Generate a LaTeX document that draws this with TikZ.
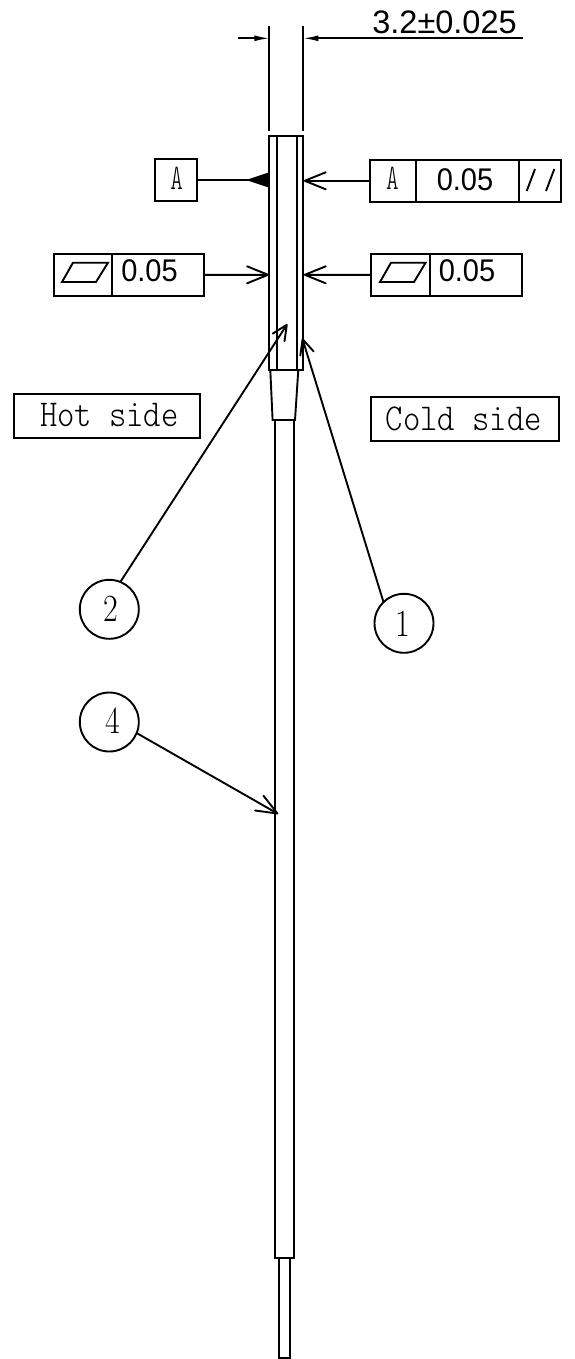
\documentclass[tikz,border=0pt]{standalone}
\usepackage{fontspec}
\usetikzlibrary{arrows.meta,calc}
\setmainfont{Liberation Sans}
\newcommand{\dimfont}[1]{\fontsize{#1}{#1}\selectfont}
\newcommand{\sanstall}[1]{\scalebox{1}[1.08]{\fontsize{29}{29}\selectfont #1}}
\newcommand{\serifdigit}[1]{\scalebox{1}[1.2]{\fontsize{32}{32}\selectfont\fontspec{Latin Modern Roman}#1}}
\newcommand{\monotext}[1]{\scalebox{1}[1.15]{\fontsize{33}{33}\selectfont\fontspec{Latin Modern Mono Light}#1}}
\newcommand{\monoA}{\scalebox{0.8}[1.2]{\fontsize{30}{30}\selectfont\fontspec{Latin Modern Mono Light}A}}
\tikzset{
  ln/.style={line width=1.9pt, line cap=butt, line join=miter},
  cell/.style={draw, ln, rectangle, inner sep=0pt, outer sep=0pt, anchor=north west},
  txt/.style={inner sep=0pt, outer sep=0pt, anchor=base},
  bubble/.style={draw, ln, circle, minimum size=59pt, inner sep=0pt, outer sep=0pt},
  pbarb/.style={-{Straight Barb[length=21pt,width=17pt,line width=1.9pt,round]}, ln},
  sbarb/.style={-{Straight Barb[length=15pt,width=14pt,line width=1.9pt,round]}, ln},
  dimtip/.style={-{Latex[length=15pt,width=6pt]}, line width=1.6pt}
}
\begin{document}
\begin{tikzpicture}[x=1pt,y=-1pt]
\useasboundingbox (0,0) rectangle (574,1359);
\fill[white] (0,0) rectangle (574,1359);

% part outline
\draw[ln] (269.3,136) rectangle (303.4,370);
\draw[ln] (276.7,136) -- (276.7,370);
\draw[ln] (297,136) -- (297,370);
\draw[ln] (270.3,370) -- (272.6,420) -- (295,420) -- (298.3,370);
\draw[ln] (275,420) -- (275,1258.3);
\draw[ln] (293.8,420) -- (293.8,1258.3);
\draw[ln] (274,1258.3) -- (294.8,1258.3);
\draw[ln] (279.3,1258.3) -- (279.3,1358.3) -- (290,1358.3) -- (290,1258.3);

% dimension
\coordinate (extLtop) at (269.3,25.7);
\coordinate (extLbot) at (269.3,130.7);
\coordinate (extRtop) at (303.4,25.7);
\coordinate (extRbot) at (303.4,130.7);
\coordinate (dimL) at (238,38.3);
\coordinate (dimLtip) at (269.3,38.3);
\coordinate (dimRend) at (522.7,38.3);
\coordinate (dimRtip) at (303.4,38.3);
\draw[ln] (extLtop) -- (extLbot);
\draw[ln] (extRtop) -- (extRbot);
\draw[dimtip] (dimL) -- (dimLtip);
\draw[dimtip] (dimRend) -- (dimRtip);
\node[txt] (dimtext) at (444.5,34) {\dimfont{32.5}3.2±0.025};

% datum A
\node[cell, minimum width=42pt, minimum height=41.4pt] (datum) at (155.3,159.3) {};
\node[txt] (datumA) at (176.7,189.3) {\monoA};
\coordinate (datumfoot) at (269.3,180);
\coordinate (datumbase) at (246,180);
\draw[ln] (datum.east) -- (datumfoot);
\fill (datumbase) -- (269.3,172.3) -- (269.3,187.7) -- cycle;

% parallelism frame
\node[cell, minimum width=46pt, minimum height=41.6pt] (fA) at (370,160) {};
\node[cell, minimum width=103.3pt, minimum height=41.6pt] (fB) at (416,160) {};
\node[cell, minimum width=41.4pt, minimum height=41.6pt] (fC) at (519.3,160) {};
\node[txt] (fAt) at (392.3,189.3) {\monoA};
\node[txt] (fBt) at (465,190) {\sanstall{0.05}};
\draw[ln] (526.7,191) -- (535,169);
\draw[ln] (546,191) -- (554.3,169);
\coordinate (fTip) at (303.8,180.8);
\draw[pbarb] (fA.west) -- (fTip);

% flatness frame left
\node[cell, minimum width=57.7pt, minimum height=41.7pt] (lA) at (54,254) {};
\node[cell, minimum width=92.7pt, minimum height=41.7pt] (lB) at (111.7,254) {};
\draw[ln] (62,282) -- (73,262.7) -- (108,262.7) -- (96,282) -- cycle;
\node[txt] (lBt) at (149.5,281.7) {\sanstall{0.05}};
\coordinate (lTip) at (269,274.8);
\draw[pbarb] (lB.east) -- (lTip);

% flatness frame right
\node[cell, minimum width=58.3pt, minimum height=41.7pt] (rA) at (371.4,254) {};
\node[cell, minimum width=91.9pt, minimum height=41.7pt] (rB) at (429.7,254) {};
\draw[ln] (380,282) -- (391,262.7) -- (425.6,262.7) -- (414,282) -- cycle;
\node[txt] (rBt) at (467,281.7) {\sanstall{0.05}};
\coordinate (rTip) at (303.8,274.8);
\draw[pbarb] (rA.west) -- (rTip);

% side labels
\node[cell, minimum width=186.4pt, minimum height=43.7pt] (hot) at (14,394) {};
\node[txt] (hott) at (109.3,426.7) {\monotext{Hot side}};
\node[cell, minimum width=187.2pt, minimum height=44pt] (cold) at (371.4,397.3) {};
\node[txt] (coldt) at (463.7,430) {\monotext{Cold side}};

% balloons
\node[bubble] (b2) at (109.3,609.3) {};
\node[txt] (b2t) at (111,621) {\serifdigit{2}};
\node[bubble] (b1) at (404,623.3) {};
\node[txt] (b1t) at (403.3,636.7) {\serifdigit{1}};
\node[bubble] (b4) at (109.3,722) {};
\node[txt] (b4t) at (112.7,733) {\serifdigit{4}};
\coordinate (t2) at (287.3,324);
\coordinate (t1) at (302.3,338.3);
\coordinate (t4) at (278.3,814);
\draw[sbarb] (b2.68) -- (t2);
\draw[sbarb] (b1.134) -- (t1);
\draw[pbarb] (b4.-22) -- (t4);
\end{tikzpicture}
\end{document}
